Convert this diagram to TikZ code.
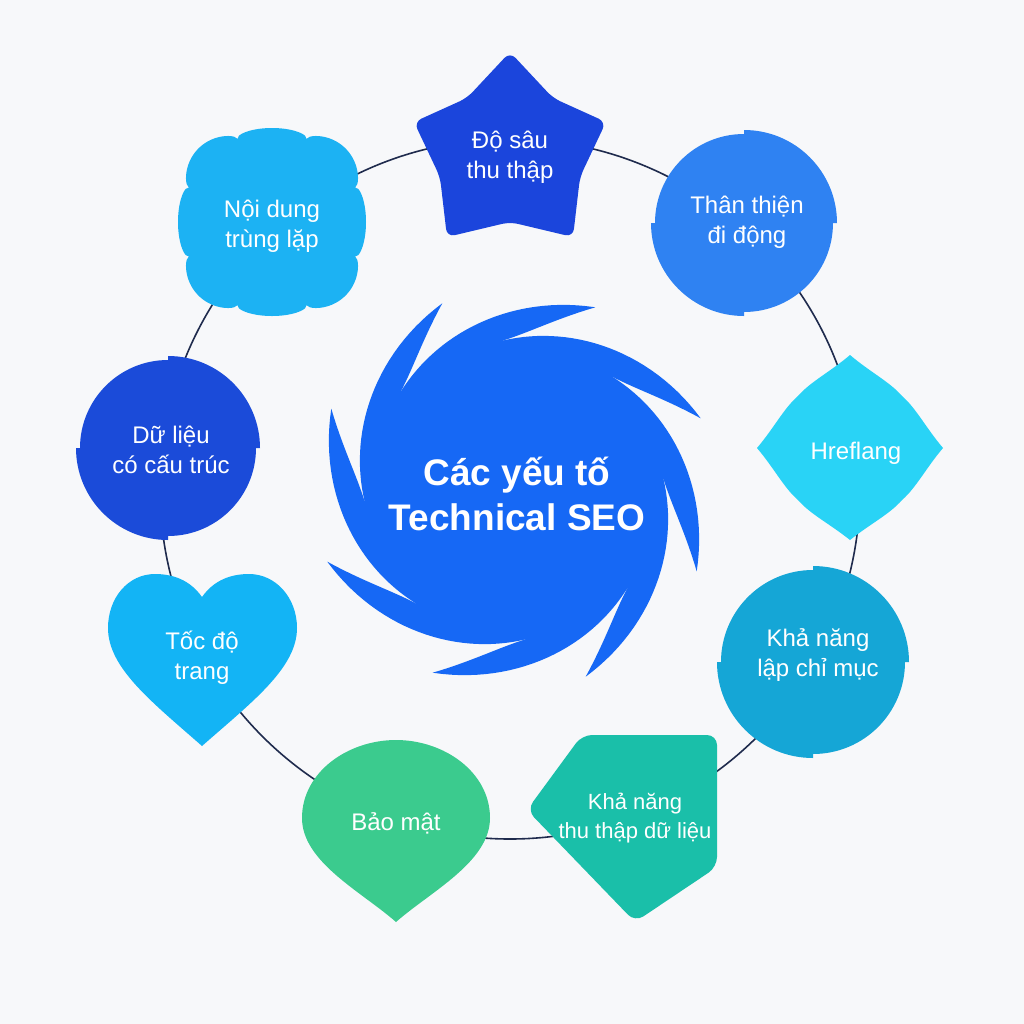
\documentclass[tikz,border=0pt]{standalone}
\usepackage{fontspec}
\setmainfont{Liberation Sans}
\definecolor{bgc}{HTML}{F7F8FA}
\definecolor{ringc}{HTML}{1F2B4D}
\definecolor{swirlc}{HTML}{1668F5}
\definecolor{starc}{HTML}{1B45DC}
\definecolor{mobilec}{HTML}{2F82F2}
\definecolor{hrefc}{HTML}{29D3F6}
\definecolor{indexc}{HTML}{15A6D6}
\definecolor{crawlc}{HTML}{1ABFA9}
\definecolor{securec}{HTML}{3BCB8E}
\definecolor{speedc}{HTML}{13B4F5}
\definecolor{structc}{HTML}{1B4BD9}
\definecolor{dupc}{HTML}{1CB2F3}
\tikzset{
  lbl/.style={text=white, align=center, inner sep=0pt, font=\fontsize{12}{15}\selectfont},
  centerlbl/.style={text=white, align=center, inner sep=0pt, font=\fontsize{18.5}{22.5}\selectfont\bfseries},
  ring/.style={draw=ringc, line width=0.8pt},
}
\begin{document}
\begin{tikzpicture}[x=0.5pt,y=-0.5pt]
\useasboundingbox (0,0) rectangle (1024,1024);
\fill[bgc] (0,0) rectangle (1024,1024);

% ring
\draw[ring] (510,489) circle[radius=350];

% central swirl
\begin{scope}[shift={(514,490)}]
  \fill[swirlc] (0,0) circle[radius=150];
  \foreach \s in {221,266,311,356,401,446,491,536}{
    \fill[swirlc] plot[domain=0:73,samples=30] ({\s+\x}:{150+50*(\x/73)*(0.6+0.4*\x/73)})
      -- plot[domain=1:0,samples=16] ({\s+45+28*\x}:{150+50*\x*(0.35+0.65*\x)}) -- cycle;
  }
\end{scope}
\node[centerlbl] (center) at (517,494) {Các yếu tố\\Technical SEO};

% star: Do sau thu thap
\fill[starc, rounded corners=4] (510,52) -- (553,98) -- (606,122) -- (580,177) -- (573,237)
  -- (510,222) -- (447,237) -- (440,177) -- (414,122) -- (467,98) -- cycle;
\node[lbl] (depth) at (510,157) {Độ sâu\\thu thập};

% notched circle: Than thien di dong
\begin{scope}[shift={(744,223)}]
  \fill[mobilec] (0,0) -- (270:93) arc[start angle=270,end angle=360,radius=93] -- cycle;
  \fill[mobilec] (0,0) -- (90:93) arc[start angle=90,end angle=180,radius=93] -- cycle;
  \fill[mobilec] (0,0) -- (0:89) arc[start angle=0,end angle=90,radius=89] -- cycle;
  \fill[mobilec] (0,0) -- (180:89) arc[start angle=180,end angle=270,radius=89] -- cycle;
\end{scope}
\node[lbl] (mobile) at (747,222) {Thân thiện\\đi động};

% four-point shape: Hreflang
\begin{scope}[shift={(850,448)}]
  \fill[hrefc] (0,-93)
    .. controls (20,-76) and (40,-66) .. (52,-52) .. controls (66,-40) and (76,-20) .. (93,0)
    .. controls (76,20) and (66,40) .. (52,52) .. controls (40,66) and (20,76) .. (0,92)
    .. controls (-20,76) and (-40,66) .. (-52,52) .. controls (-66,40) and (-76,20) .. (-93,0)
    .. controls (-76,-20) and (-66,-40) .. (-52,-52) .. controls (-40,-66) and (-20,-76) .. (0,-93) -- cycle;
\end{scope}
\node[lbl] (hreflang) at (856,453) {Hreflang};

% notched circle: Kha nang lap chi muc
\begin{scope}[shift={(813,662)}]
  \fill[indexc] (0,0) -- (270:96) arc[start angle=270,end angle=360,radius=96] -- cycle;
  \fill[indexc] (0,0) -- (90:96) arc[start angle=90,end angle=180,radius=96] -- cycle;
  \fill[indexc] (0,0) -- (0:92) arc[start angle=0,end angle=90,radius=92] -- cycle;
  \fill[indexc] (0,0) -- (180:92) arc[start angle=180,end angle=270,radius=92] -- cycle;
\end{scope}
\node[lbl] (index) at (818,655) {Khả năng\\lập chỉ mục};

% house pentagon: Kha nang thu thap du lieu
\fill[crawlc, rounded corners=5] (582,735) -- (717,735) -- (717,867) -- (635,922) -- (527,810) -- cycle;
\node[lbl, font=\fontsize{11}{14.5}\selectfont] (crawl) at (635,818) {Khả năng\\thu thập dữ liệu};

% teardrop: Bao mat
\fill[securec] (302,818) .. controls (302,772) and (348,740) .. (396,740)
  .. controls (444,740) and (490,772) .. (490,818)
  .. controls (490,862) and (430,892) .. (396,922)
  .. controls (362,892) and (302,862) .. (302,818) -- cycle;
\node[lbl] (secure) at (396,823) {Bảo mật};

% heart: Toc do trang
\fill[speedc] (202,597) .. controls (190,580) and (173,574) .. (155,574)
  .. controls (128,574) and (108,598) .. (108,628)
  .. controls (108,668) and (152,702) .. (202,746)
  .. controls (252,702) and (297,668) .. (297,628)
  .. controls (297,598) and (276,574) .. (249,574)
  .. controls (231,574) and (214,580) .. (202,597) -- cycle;
\node[lbl] (speed) at (202,658) {Tốc độ\\trang};

% notched circle: Du lieu co cau truc
\begin{scope}[shift={(168,448)}]
  \fill[structc] (0,0) -- (270:92) arc[start angle=270,end angle=360,radius=92] -- cycle;
  \fill[structc] (0,0) -- (90:92) arc[start angle=90,end angle=180,radius=92] -- cycle;
  \fill[structc] (0,0) -- (0:88) arc[start angle=0,end angle=90,radius=88] -- cycle;
  \fill[structc] (0,0) -- (180:88) arc[start angle=180,end angle=270,radius=88] -- cycle;
\end{scope}
\node[lbl] (struct) at (171,450) {Dữ liệu\\có cấu trúc};

% flower: Noi dung trung lap
\begin{scope}[shift={(272,222)}]
  \fill[dupc] plot[domain=0:360,samples=241] (\x:{90+9*sqrt(abs(cos(4*\x)))-5*cos(4*\x)}) -- cycle;
\end{scope}
\node[lbl] (dup) at (272,226) {Nội dung\\trùng lặp};
\end{tikzpicture}
\end{document}
